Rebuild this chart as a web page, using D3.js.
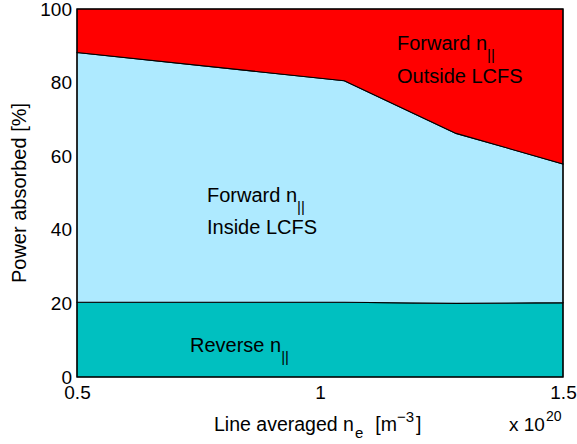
<!DOCTYPE html>
<html>
<head>
<meta charset="utf-8">
<script src="https://cdn.jsdelivr.net/npm/d3@7"></script>
<style>
    body { margin: 0; background: #fff; }
    svg { display: block; font-family: "Liberation Sans", Arial, Helvetica, sans-serif; }
</style>
</head>
<body>
<svg></svg>
<script>
// density values (x 10^20 m^-3)
let density = [0.5, 1.05, 1.28, 1.5];
// power absorbed per channel [%]
let reverse = [20.3, 20.3, 20.0, 20.2];
let forwardInside = [67.9, 60.2, 46.2, 37.7];
let forwardOutside = [11.8, 19.5, 33.8, 42.1];

let xTicks = [0.5, 1, 1.5];
let yTicks = [0, 20, 40, 60, 80, 100];

let width = 577;
let height = 444;
let padLeft = 77, padRight = 563, padTop = 9, padBottom = 377;

let keys = ["reverse", "inside", "outside"];
let colors = { reverse: "#00c0c0", inside: "#aeeaff", outside: "#ff0000" };

let svg = d3.select("svg")
    .attr("width", width)
    .attr("height", height);

let table = density.map((d, i) => {
    return { x: d, reverse: reverse[i], inside: forwardInside[i], outside: forwardOutside[i] };
});

let xScale = d3.scaleLinear().domain([0.5, 1.5]).range([padLeft, padRight]);
let yScale = d3.scaleLinear().domain([0, 100]).range([padBottom, padTop]);

let layers = d3.stack().keys(keys)(table);

let area = d3.area()
    .x(d => xScale(d.data.x))
    .y0(d => yScale(d[0]))
    .y1(d => yScale(Math.min(d[1], 100)));

svg.selectAll("path.layer")
    .data(layers)
    .enter()
    .append("path")
    .attr("class", "layer")
    .attr("d", area)
    .attr("fill", d => colors[d.key])
    .attr("stroke", "#000")
    .attr("stroke-width", 1.1);

// axes box
svg.append("rect")
    .attr("x", padLeft)
    .attr("y", padTop)
    .attr("width", padRight - padLeft)
    .attr("height", padBottom - padTop)
    .attr("fill", "none")
    .attr("stroke", "#000")
    .attr("stroke-width", 1.2);

let xAxis = d3.axisBottom(xScale).tickValues(xTicks).tickSize(0).tickPadding(9)
    .tickFormat(d3.format("~g"));
let yAxis = d3.axisLeft(yScale).tickValues(yTicks).tickSize(0).tickPadding(5);

let gx = svg.append("g")
    .attr("transform", "translate(0," + padBottom + ")")
    .call(xAxis);
let gy = svg.append("g")
    .attr("transform", "translate(" + padLeft + ",0)")
    .call(yAxis);

[gx, gy].forEach(g => {
    g.attr("font-family", null).attr("font-size", null);
    g.select(".domain").remove();
    g.selectAll("text").attr("fill", "#000").style("font-size", "19px");
});

// axis labels
let xl = svg.append("text")
    .attr("x", 214)
    .attr("y", 431)
    .style("font-size", "19.5px");
xl.append("tspan").text("Line averaged n");
xl.append("tspan").attr("dx", 1).attr("dy", 7).style("font-size", "15px").text("e");
xl.append("tspan").attr("dx", 12).attr("dy", -7).text("[m");
xl.append("tspan").attr("dy", -9).style("font-size", "15px").text("\u22123");
xl.append("tspan").attr("dx", 2).attr("dy", 9).text("]");

let ex = svg.append("text")
    .attr("x", 509)
    .attr("y", 431)
    .style("font-size", "19px");
ex.append("tspan").text("x 10");
ex.append("tspan").attr("dx", 1).attr("dy", -10).style("font-size", "14px").text("20");

svg.append("text")
    .attr("transform", "translate(26," + ((padTop + padBottom) / 2) + ") rotate(-90)")
    .attr("text-anchor", "middle")
    .style("font-size", "20px")
    .text("Power absorbed [%]");

// region labels
let addLabel = (x, y, main, sub) => {
    let t = svg.append("text").attr("x", x).attr("y", y).style("font-size", "20px");
    t.append("tspan").text(main);
    if (sub) {
        t.append("tspan").attr("dy", 10).style("font-size", "15px").text(sub);
    }
};

addLabel(397, 50, "Forward n", "||");
addLabel(397, 83, "Outside LCFS");
addLabel(207, 202, "Forward n", "||");
addLabel(207, 234, "Inside LCFS");
addLabel(190, 352, "Reverse n", "||");
</script>
</body>
</html>
